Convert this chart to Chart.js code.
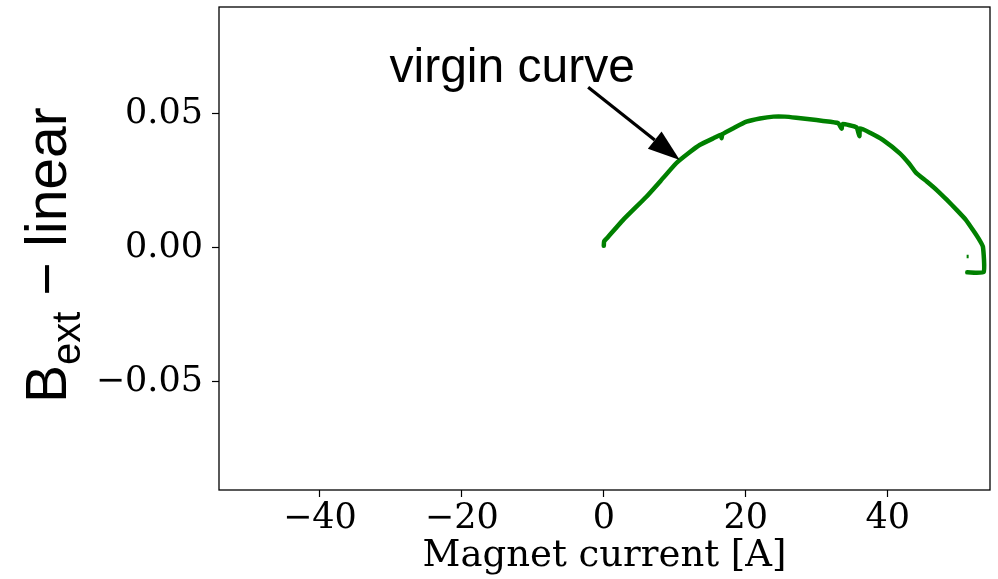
<!DOCTYPE html>
<html>
<head>
<meta charset="utf-8">
<script src="https://cdn.jsdelivr.net/npm/chart.js@4.4.0/dist/chart.umd.min.js"></script>
<style>
  html, body { margin: 0; padding: 0; background: #fff; }
  #wrap { width: 998px; height: 579px; position: relative; }
</style>
</head>
<body>
<div id="wrap"><canvas id="chart"></canvas></div>
<script>
// virgin curve: magnet current [A] vs B_ext - linear fit
const currentA = [0, 0.05, 0.4, 2.7, 6.0, 8.0, 10.2, 12.0, 13.5, 15.5, 16.5, 16.6, 16.7, 18.5, 20.1, 22.0,
  23.9, 25.5, 27.1, 29.0, 30.9, 33.0, 33.5, 33.6, 35.6, 36.0, 36.1, 37.5, 39.3, 41.7, 43.0, 44.0,
  45.5, 46.9, 48.3, 49.7, 51.0, 52.0, 52.8, 53.4, 53.5, 51.2];
const fieldDiff = [0.0008, 0.0025, 0.0035, 0.0104, 0.0191, 0.0250, 0.0316, 0.0355, 0.0384, 0.0410, 0.0422, 0.0410, 0.0424, 0.0450, 0.0471, 0.0483,
  0.0490, 0.0490, 0.0486, 0.0480, 0.0474, 0.0466, 0.0445, 0.0462, 0.0450, 0.0417, 0.0446, 0.0430, 0.0403, 0.0353, 0.0315, 0.0280,
  0.0248, 0.0216, 0.0180, 0.0142, 0.0105, 0.0067, 0.0035, 0.0005, -0.0090, -0.0091];
// stray little mark left of the end of the curve
const strayA = [51.25, 51.25];
const strayB = [-0.0025, -0.0038];

const xTicks = [-40, -20, 0, 20, 40];
const yTicks = [-0.05, 0, 0.05];
const xRange = [-54.2, 54.4];
const yRange = [-0.0903, 0.0899];

// annotation: text position and arrow (data coordinates)
const noteText = 'virgin curve';
const noteAt = [-12.9, 0.0619];
const arrowFrom = [-2.2, 0.0600];
const arrowTo = [10.7, 0.0328];

const toPts = (xs, ys) => xs.map((x, i) => ({ x: x, y: ys[i] }));

const frameAndNotes = {
  id: 'frameAndNotes',
  afterDraw(chart) {
    const { ctx, chartArea: a, scales: { x, y } } = chart;
    ctx.save();
    // full axes box
    ctx.strokeStyle = '#000';
    ctx.lineWidth = 1.3;
    ctx.strokeRect(a.left, a.top, a.right - a.left, a.bottom - a.top);

    // annotation text
    ctx.fillStyle = '#000';
    ctx.font = '48px "Liberation Sans", Arial, sans-serif';
    ctx.textAlign = 'center';
    ctx.textBaseline = 'alphabetic';
    ctx.fillText(noteText, x.getPixelForValue(noteAt[0]), y.getPixelForValue(noteAt[1]));

    // arrow
    const x0 = x.getPixelForValue(arrowFrom[0]), y0 = y.getPixelForValue(arrowFrom[1]);
    const x1 = x.getPixelForValue(arrowTo[0]), y1 = y.getPixelForValue(arrowTo[1]);
    const ang = Math.atan2(y1 - y0, x1 - x0);
    const headLen = 32, headHalf = 11;
    const bx = x1 - headLen * Math.cos(ang), by = y1 - headLen * Math.sin(ang);
    ctx.strokeStyle = '#000';
    ctx.lineWidth = 3.2;
    ctx.beginPath();
    ctx.moveTo(x0, y0);
    ctx.lineTo(bx, by);
    ctx.stroke();
    ctx.beginPath();
    ctx.moveTo(x1, y1);
    ctx.lineTo(bx + headHalf * Math.sin(ang), by - headHalf * Math.cos(ang));
    ctx.lineTo(bx - headHalf * Math.sin(ang), by + headHalf * Math.cos(ang));
    ctx.closePath();
    ctx.fill();

    // y label: B_ext − linear, rotated
    ctx.translate(66, 403);
    ctx.rotate(-Math.PI / 2);
    ctx.textAlign = 'left';
    ctx.font = '57px "Liberation Sans", Arial, sans-serif';
    let px = 0;
    ctx.fillText('B', px, 0);
    px += ctx.measureText('B').width;
    ctx.font = '40px "Liberation Sans", Arial, sans-serif';
    ctx.fillText('ext', px, 14);
    px += ctx.measureText('ext').width;
    ctx.font = '57px "Liberation Sans", Arial, sans-serif';
    ctx.fillText(' \u2212 linear', px, 0);
    ctx.restore();
  }
};

new Chart(document.getElementById('chart'), {
  type: 'scatter',
  data: {
    datasets: [
      {
        data: toPts(currentA, fieldDiff),
        showLine: true,
        borderColor: '#008000',
        borderWidth: 4.5,
        pointRadius: 0,
        tension: 0.15,
        borderCapStyle: 'round',
        borderJoinStyle: 'round'
      },
      {
        data: toPts(strayA, strayB),
        showLine: true,
        borderColor: '#008000',
        borderWidth: 2,
        pointRadius: 0
      }
    ]
  },
  options: {
    responsive: true,
    maintainAspectRatio: false,
    animation: false,
    layout: { padding: { left: 0, right: 8, top: 7, bottom: 0 } },
    plugins: {
      legend: { display: false },
      tooltip: { enabled: false }
    },
    scales: {
      x: {
        type: 'linear',
        min: xRange[0],
        max: xRange[1],
        afterBuildTicks: s => { s.ticks = xTicks.map(v => ({ value: v })); },
        afterFit: s => { s.height = 89; s.paddingLeft = 0; s.paddingRight = 0; },
        grid: { drawOnChartArea: false, tickLength: 7, color: '#000', tickColor: '#000', tickWidth: 1.2 },
        border: { display: false },
        ticks: {
          color: '#000',
          padding: 1,
          font: { family: '"DejaVu Serif", serif', size: 35 },
          callback: v => (v < 0 ? '\u2212' + Math.abs(v) : String(v))
        },
        title: {
          display: true,
          text: 'Magnet current [A]',
          color: '#000',
          padding: { top: 0, bottom: 0 },
          font: { family: '"DejaVu Serif", serif', size: 37 }
        }
      },
      y: {
        type: 'linear',
        min: yRange[0],
        max: yRange[1],
        afterBuildTicks: s => { s.ticks = yTicks.map(v => ({ value: v })); },
        afterFit: s => { s.width = 219; s.paddingTop = 0; s.paddingBottom = 0; },
        grid: { drawOnChartArea: false, tickLength: 7, color: '#000', tickColor: '#000', tickWidth: 1.2 },
        border: { display: false },
        ticks: {
          color: '#000',
          padding: 9,
          font: { family: '"DejaVu Serif", serif', size: 35 },
          callback: v => (v < 0 ? '\u2212' : '') + Math.abs(v).toFixed(2)
        }
      }
    }
  },
  plugins: [frameAndNotes]
});
</script>
</body>
</html>
